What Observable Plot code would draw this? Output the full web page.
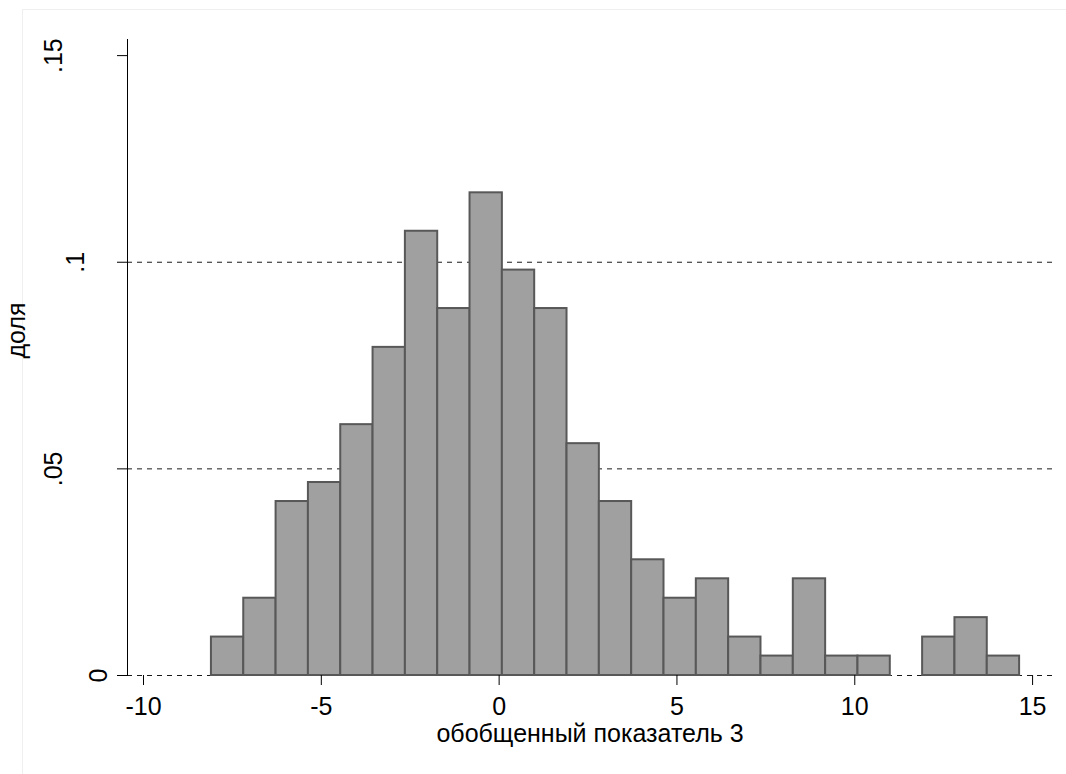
<!DOCTYPE html>
<html><head><meta charset="utf-8">
<script src="https://cdn.jsdelivr.net/npm/d3@7"></script>
<script src="https://cdn.jsdelivr.net/npm/@observablehq/plot@0.6"></script>
<style>
html,body{margin:0;padding:0;background:#fff;}
#wrap{position:relative;width:1066px;height:774px;overflow:hidden;}
#border{position:absolute;left:22px;top:9px;width:1100px;height:800px;border:1px solid #efefef;}
#chart{position:absolute;left:0;top:0;}
</style></head><body>
<div id="wrap"><div id="border"></div><div id="chart"></div></div>
<script>
// Histogram data (bin start, bin width, share per bin)
const binStart = -8.09;
const binWidth = 0.909;
const shares = [0.0093, 0.0187, 0.0421, 0.0467, 0.0607, 0.0794, 0.1075, 0.0888, 0.1168, 0.0981,
                0.0888, 0.0561, 0.0421, 0.0280, 0.0187, 0.0234, 0.0093, 0.0047, 0.0234, 0.0047,
                0.0047, 0, 0.0093, 0.0140, 0.0047];
const xTicks = [-10, -5, 0, 5, 10, 15];
const yTicks = [0, 0.05, 0.1, 0.15];
const gridLines = [0, 0.05, 0.1];
const xTitle = "обобщенный показатель 3";
const yTitle = "доля";

const bins = shares.map((s, i) => ({x1: binStart + i * binWidth, x2: binStart + (i + 1) * binWidth, share: s}))
                   .filter(d => d.share > 0);
const fmtY = d => d === 0 ? "0" : String(d).replace(/^0/, "");
const FONT = 25;

const chart = Plot.plot({
  width: 1066,
  height: 774,
  marginLeft: 127,
  marginRight: 14,
  marginTop: 39,
  marginBottom: 99,
  style: {fontFamily: "'Liberation Sans', Arial, Helvetica, sans-serif", fontSize: FONT + "px", background: "transparent", overflow: "visible"},
  x: {domain: [-10.45, 15.56]},
  y: {domain: [0, 0.1539]},
  marks: [
    Plot.ruleY(gridLines, {stroke: "#1a1a1a", strokeWidth: 1, strokeDasharray: "5,5"}),
    Plot.rectY(bins, {x1: "x1", x2: "x2", y: "share", fill: "#a0a0a0", stroke: "#585858", strokeWidth: 2, insetLeft: 0, insetRight: 0}),
    Plot.frame({anchor: "left", stroke: "#000", strokeWidth: 1}),
    Plot.axisX({ticks: xTicks, tickSize: 10, tickPadding: 12, tickFormat: d => String(d), label: null, fontSize: FONT, stroke: "#000"}),
    Plot.axisY({ticks: yTicks, tickSize: 10, tickFormat: () => "", label: null, stroke: "#000"}),
    ...yTicks.map(t => Plot.text([t], {
      y: d => d, frameAnchor: "left", text: d => fmtY(d), rotate: -90,
      lineAnchor: "bottom", textAnchor: "middle",
      dx: -(21 + 22.5 * (fmtY(t).length - 1)), fontSize: FONT, fill: "#000"
    })),
    Plot.text([xTitle], {frameAnchor: "bottom", dy: 58, lineAnchor: "middle", fontSize: FONT, fill: "#000"}),
    Plot.text([yTitle], {frameAnchor: "left", rotate: -90, lineAnchor: "bottom", textAnchor: "middle", dx: -103, dy: -27, fontSize: FONT, fill: "#000"})
  ]
});
document.getElementById("chart").appendChild(chart);
</script>
</body></html>
